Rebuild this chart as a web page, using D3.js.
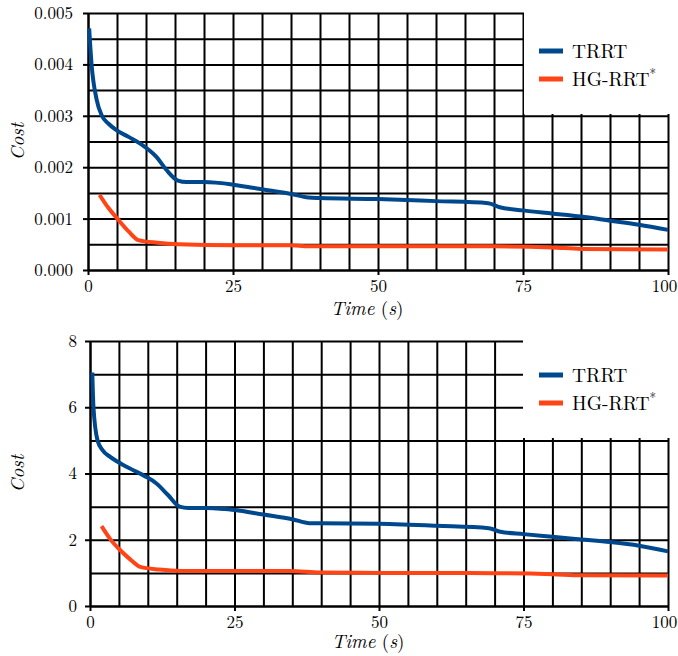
<!DOCTYPE html>
<html>
<head>
<meta charset="utf-8">
<script src="https://cdn.jsdelivr.net/npm/d3@7"></script>
<style>
  body { margin: 0; background: #fff; }
</style>
</head>
<body>
<div id="chart"></div>
<script>
// Data
const seriesNames = ['TRRT', 'HG-RRT']
const xTicks = [0, 25, 50, 75, 100]

const trrtTime1 = [0.2, 0.6, 1.5, 2.4, 3.5, 4.9, 7, 9, 11.8, 13.5, 15.5, 17, 20, 22, 25, 30, 35, 38, 40, 50, 60, 69, 71, 75, 80, 85, 90, 95, 100]
const trrtCost1 = [0.0047, 0.00402, 0.00331, 0.0030, 0.00285, 0.00272, 0.00259, 0.00246, 0.0022, 0.00195, 0.00174, 0.00171, 0.00171, 0.0017, 0.00166, 0.00157, 0.00148, 0.00141, 0.0014, 0.00138, 0.00134, 0.0013, 0.00122, 0.00116, 0.0011, 0.00104, 0.00096, 0.00088, 0.00078]
const hgTime1 = [2, 3.5, 5.2, 7, 8.7, 12, 15.6, 25, 35, 38, 50, 70, 80, 85, 100]
const hgCost1 = [0.00146, 0.00121, 0.00098, 0.00075, 0.00058, 0.00053, 0.0005, 0.00048, 0.00048, 0.00046, 0.00046, 0.00046, 0.00044, 0.00041, 0.0004]

const trrtTime2 = [0.4, 0.6, 1.3, 2.2, 3.5, 5.5, 7.5, 9.5, 11.5, 13.5, 15.5, 17, 20, 22, 25, 30, 35, 38, 40, 50, 60, 69, 71, 75, 80, 85, 90, 95, 100]
const trrtCost2 = [7.05, 6.0, 5.0, 4.7, 4.5, 4.28, 4.1, 3.92, 3.7, 3.35, 3.0, 2.96, 2.96, 2.94, 2.9, 2.76, 2.62, 2.5, 2.5, 2.48, 2.42, 2.35, 2.24, 2.17, 2.09, 2.01, 1.93, 1.82, 1.65]
const hgTime2 = [2, 3.5, 5.2, 7, 8.7, 12, 15.6, 25, 34.6, 39.8, 50, 70, 80, 85, 100]
const hgCost2 = [2.41, 2.02, 1.69, 1.4, 1.18, 1.1, 1.06, 1.06, 1.06, 1.01, 1.0, 0.99, 0.96, 0.93, 0.92]

const yTicks1 = [0, 0.001, 0.002, 0.003, 0.004, 0.005]
const yTicks2 = [0, 2, 4, 6, 8]

const colors = ['#00488d', '#ff4516']
const serif = '"Latin Modern Roman", "Liberation Serif", serif'

const svg = d3.select('#chart')
  .append('svg')
  .attr('width', 678)
  .attr('height', 656)

function panel(opts) {
  const w = opts.right - opts.left
  const h = opts.bottom - opts.top
  const g = svg.append('g')
    .attr('transform', `translate(${opts.left}, ${opts.top})`)

  const xScale = d3.scaleLinear().domain([0, 100]).range([0, w])
  const yScale = d3.scaleLinear().domain([0, opts.yMax]).range([h, 0])

  // grid
  g.append('g')
    .attr('transform', `translate(0, ${h})`)
    .call(d3.axisBottom(xScale).tickValues(d3.range(0, 101, 5)).tickSize(-h).tickFormat(''))
    .call(a => a.select('.domain').remove())
    .selectAll('line').attr('stroke', '#000').attr('stroke-width', 2)
  g.append('g')
    .call(d3.axisLeft(yScale).tickValues(d3.range(0, opts.yMax + opts.yGrid / 2, opts.yGrid)).tickSize(-w).tickFormat(''))
    .call(a => a.select('.domain').remove())
    .selectAll('line').attr('stroke', '#000').attr('stroke-width', 2)

  // axes
  const xAxis = g.append('g')
    .attr('transform', `translate(0, ${h})`)
    .call(d3.axisBottom(xScale).tickValues(xTicks).tickSize(5).tickPadding(5).tickSizeOuter(0))
  const yAxis = g.append('g')
    .call(d3.axisLeft(yScale).tickValues(opts.yTicks).tickSize(5).tickPadding(opts.yPad).tickSizeOuter(0).tickFormat(opts.fmt))
  ;[xAxis, yAxis].forEach(a => {
    a.select('.domain').attr('stroke', '#000').attr('stroke-width', 2)
    a.selectAll('line').attr('stroke', '#000').attr('stroke-width', 2)
    a.selectAll('text')
      .style('font-family', serif)
      .style('font-size', '17px')
      .attr('fill', '#000')
  })
  // last label hugs the right edge
  xAxis.selectAll('text').filter(d => d === 100).attr('dx', -4)

  // lines
  const line = d3.line()
    .x(d => xScale(d[0]))
    .y(d => yScale(d[1]))
    .curve(d3.curveMonotoneX)
  const series = [
    d3.zip(opts.t1, opts.c1),
    d3.zip(opts.t2, opts.c2)
  ]
  g.selectAll('path.series')
    .data(series)
    .join('path')
    .attr('class', 'series')
    .attr('d', line)
    .attr('fill', 'none')
    .attr('stroke', (d, i) => colors[i])
    .attr('stroke-width', 4)
    .attr('stroke-linejoin', 'round')

  // legend (white box over the grid)
  const lg = svg.append('g')
  lg.append('rect')
    .attr('x', opts.legX)
    .attr('y', opts.legTop)
    .attr('width', 678 - opts.legX)
    .attr('height', opts.legBottom - opts.legTop)
    .attr('fill', '#fff')
  seriesNames.forEach((name, i) => {
    const yy = opts.legY + i * 28
    lg.append('line')
      .attr('x1', 539).attr('x2', 563)
      .attr('y1', yy).attr('y2', yy)
      .attr('stroke', colors[i])
      .attr('stroke-width', 5)
    const t = lg.append('text')
      .attr('x', 572)
      .attr('y', yy + 7)
      .style('font-family', serif)
      .style('font-size', '19.5px')
      .text(name)
    if (i === 1) {
      t.append('tspan').attr('dy', -8).style('font-size', '13px').text('*')
    }
  })

  // axis labels
  svg.append('text')
    .attr('x', opts.left + w / 2 - 11)
    .attr('y', opts.bottom + opts.xLabOff)
    .attr('text-anchor', 'middle')
    .style('font-family', serif)
    .style('font-size', '19px')
    .call(t => t.append('tspan').style('font-style', 'italic').text('Time'))
    .call(t => t.append('tspan').text(' ('))
    .call(t => t.append('tspan').style('font-style', 'italic').text('s'))
    .call(t => t.append('tspan').text(')'))
  svg.append('text')
    .attr('transform', `translate(24, ${opts.top + h / 2}) rotate(-90)`)
    .attr('text-anchor', 'middle')
    .style('font-family', serif)
    .style('font-size', '19px')
    .style('font-style', 'italic')
    .text('Cost')
}

panel({
  left: 88, right: 668, top: 13, bottom: 270,
  yMax: 0.005, yGrid: 0.0005, yTicks: yTicks1, yPad: 10, fmt: d3.format('.3f'),
  t1: trrtTime1, c1: trrtCost1, t2: hgTime1, c2: hgCost1,
  legX: 524, legTop: 0, legBottom: 114, legY: 51, xLabOff: 45
})
panel({
  left: 90, right: 668, top: 341, bottom: 606,
  yMax: 8, yGrid: 1, yTicks: yTicks2, yPad: 8, fmt: d3.format('d'),
  t1: trrtTime2, c1: trrtCost2, t2: hgTime2, c2: hgCost2,
  legX: 523, legTop: 320, legBottom: 438, legY: 375, xLabOff: 42
})
</script>
</body>
</html>
